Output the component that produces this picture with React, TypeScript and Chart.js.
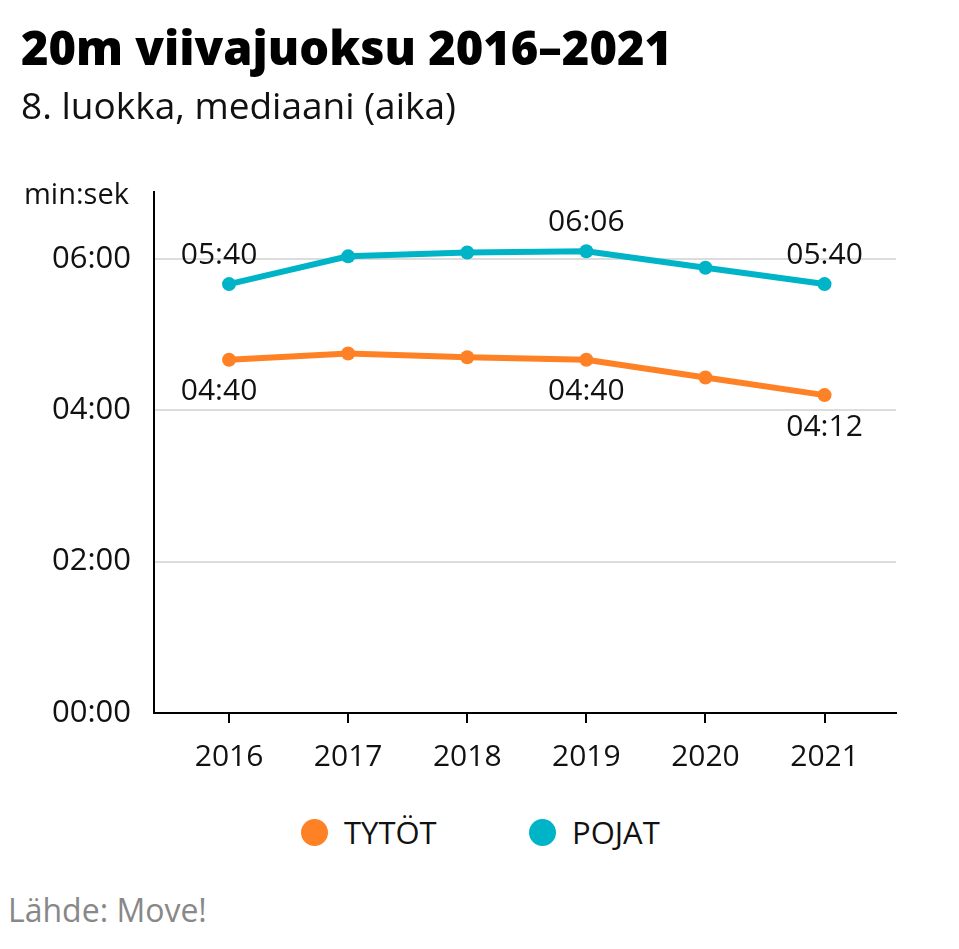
import React, { useEffect, useRef } from 'react';
import { Chart, registerables } from 'chart.js';

Chart.register(...registerables);

const YEARS = [2016, 2017, 2018, 2019, 2020, 2021];
const TYTOT = [280, 285, 282, 280, 266, 252];
const POJAT = [340, 362, 365, 366, 353, 340];
const Y_TICKS = [0, 120, 240, 360];
const LABELED = [0, 3, 5];
const SERIES_NAMES = ['TYTÖT', 'POJAT'];
const COLORS = ['#ff8126', '#00b4c8'];

const FONT = '"Open Sans", "Noto Sans", sans-serif';

function pad(n: number) {
  return n < 10 ? '0' + n : String(n);
}
function fmt(s: number) {
  const m = Math.floor(s / 60);
  const sec = Math.round(s - m * 60);
  return pad(m) + ':' + pad(sec);
}

const labelPlugin = {
  id: 'pointLabels',
  afterDatasetsDraw(chart: any) {
    const ctx = chart.ctx;
    ctx.save();
    ctx.font = `30px ${FONT}`;
    ctx.fillStyle = '#111';
    ctx.textAlign = 'center';
    ctx.textBaseline = 'middle';
    chart.data.datasets.forEach((ds: any, i: number) => {
      const meta = chart.getDatasetMeta(i);
      LABELED.forEach((idx, k) => {
        const pt = meta.data[idx];
        if (!pt) return;
        const dy = i === 1 ? -29 : 32;
        const dx = k === 0 ? -10 : 0;
        ctx.fillText(fmt(ds.data[idx].y), pt.x + dx, pt.y + dy);
      });
    });
    ctx.restore();
  },
};

export default function App() {
  const ref = useRef<HTMLCanvasElement>(null);

  useEffect(() => {
    document.body.style.margin = '0';
    const series = [TYTOT, POJAT];
    const chart = new Chart(ref.current as HTMLCanvasElement, {
      type: 'line',
      data: {
        datasets: series.map((vals, i) => ({
          label: SERIES_NAMES[i],
          data: vals.map((v, j) => ({ x: YEARS[j], y: v })),
          borderColor: COLORS[i],
          backgroundColor: COLORS[i],
          borderWidth: 6,
          pointRadius: 7,
          pointHoverRadius: 7,
          pointBorderWidth: 0,
          tension: 0,
        })),
      },
      options: {
        responsive: false,
        animation: false,
        layout: { padding: { top: 192, right: 63, left: 0, bottom: 0 } },
        plugins: { legend: { display: false }, tooltip: { enabled: false } },
        scales: {
          x: {
            type: 'linear',
            min: 2015.37,
            max: 2021.6,
            afterBuildTicks: (axis: any) => {
              axis.ticks = YEARS.map((v) => ({ value: v }));
            },
            afterFit: (s: any) => {
              s.height = 87;
            },
            ticks: {
              callback: (v: any) => String(v),
              font: { family: FONT, size: 30 },
              color: '#111',
              padding: 16,
              maxRotation: 0,
              autoSkip: false,
            },
            grid: {
              drawOnChartArea: false,
              drawTicks: true,
              tickLength: 10,
              color: '#000',
              lineWidth: 2,
            },
            border: { display: true, color: '#000', width: 2 },
          },
          y: {
            min: 0,
            max: 413,
            afterBuildTicks: (axis: any) => {
              axis.ticks = Y_TICKS.map((v) => ({ value: v }));
            },
            afterFit: (s: any) => {
              s.width = 154;
            },
            ticks: {
              callback: (v: any) => fmt(Number(v)),
              font: { family: FONT, size: 31 },
              color: '#111',
              padding: 23,
            },
            grid: { color: '#dcdcdc', lineWidth: 2, drawTicks: false },
            border: { display: true, color: '#000', width: 2 },
          },
        },
      },
      plugins: [labelPlugin],
    });
    return () => chart.destroy();
  }, []);

  const legendItem = (i: number, left: number) => (
    <div
      key={i}
      style={{
        position: 'absolute',
        left,
        top: 810,
        display: 'flex',
        alignItems: 'center',
        fontFamily: FONT,
        fontSize: 31,
        lineHeight: '44px',
        color: '#111',
      }}
    >
      <span
        style={{
          display: 'inline-block',
          width: 27,
          height: 27,
          borderRadius: '50%',
          background: COLORS[i],
          marginRight: 16,
        }}
      />
      {SERIES_NAMES[i]}
    </div>
  );

  return (
    <div style={{ position: 'relative', width: 959, height: 949, background: '#fff', overflow: 'hidden' }}>
      <canvas ref={ref} width={959} height={800} style={{ position: 'absolute', left: 0, top: 0 }} />
      <div
        style={{
          position: 'absolute',
          left: 21,
          top: 15,
          fontFamily: FONT,
          fontWeight: 800,
          fontSize: 47,
          lineHeight: '64px',
          color: '#000',
          whiteSpace: 'nowrap',
        }}
      >
        20m viivajuoksu 2016–2021
      </div>
      <div
        style={{
          position: 'absolute',
          left: 21,
          top: 80,
          fontFamily: FONT,
          fontSize: 37,
          lineHeight: '50px',
          color: '#111',
          whiteSpace: 'nowrap',
        }}
      >
        8. luokka, mediaani (aika)
      </div>
      <div
        style={{
          position: 'absolute',
          left: 24,
          top: 173,
          fontFamily: FONT,
          fontSize: 29,
          lineHeight: '40px',
          color: '#111',
          whiteSpace: 'nowrap',
        }}
      >
        min:sek
      </div>
      {legendItem(0, 301)}
      {legendItem(1, 529)}
      <div
        style={{
          position: 'absolute',
          left: 8,
          top: 888,
          fontFamily: FONT,
          fontSize: 32,
          lineHeight: '44px',
          color: '#888',
          whiteSpace: 'nowrap',
        }}
      >
        Lähde: Move!
      </div>
    </div>
  );
}
